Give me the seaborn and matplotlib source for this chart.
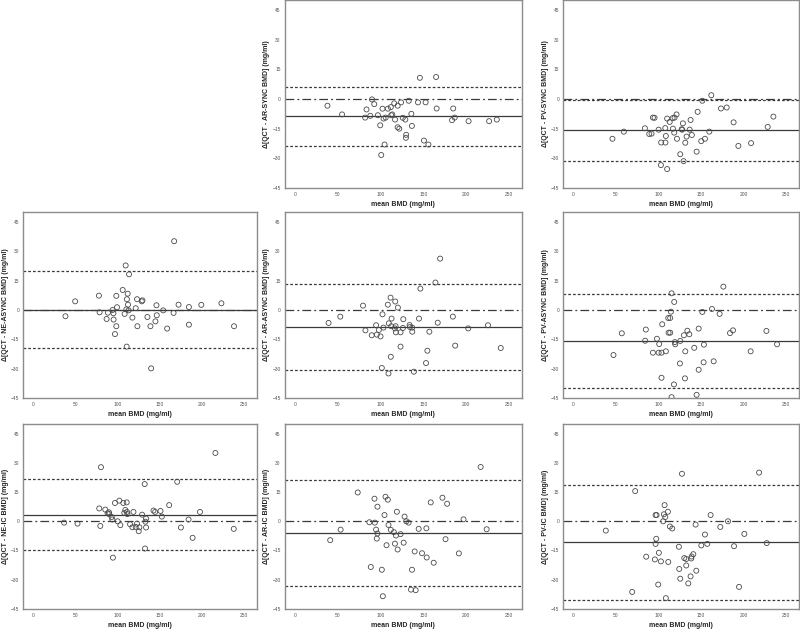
import numpy as np
import matplotlib
matplotlib.use('Agg')
import matplotlib.pyplot as plt
import seaborn as sns

sns.set_theme(style='white')
plt.rcParams['font.family'] = ['Liberation Sans', 'DejaVu Sans']

# ---- data (mean BMD, difference) ----
ar_sync_x = [37.9, 55, 83.6, 82, 88, 90, 92.6, 96.9, 99.6, 102.3, 100.8, 103.5, 104.7, 106, 108.6,
             112, 112.5, 113.7, 116, 117, 120, 120, 121.9, 124, 126, 129, 130, 129.7, 133, 136,
             136.7, 143.8, 146, 150.8, 152.7, 156, 165, 165.6, 183.6, 185, 186.7, 203, 227, 236]
ar_sync_y = [-3.4, -7.8, -5.3, -9.4, -8.5, -0.2, -2.6, -8.2, -13.3, -4.9, -28.3, -9.9, -23, -9.4, -4.9,
             -4.1, -8.2, -7.8, -2.2, -10.4, -3.4, -14.3, -15, -1.7, -9.5, -10.4, -18.1, -19.6, -0.9, -7.5,
             -13.6, -1.7, 10.7, -21, -1.7, -23, 11.1, -4.8, -10.7, -4.8, -9.4, -11.2, -11.2, -10.4]

pv_sync_x = [45.8, 59.2, 83.9, 89, 91.7, 93.3, 95.2, 100, 103, 102.7, 108, 108.5, 107.8, 110, 110,
             113, 116.4, 116.8, 118.3, 118.7, 121, 121.5, 125.4, 127, 128.5, 127.7, 129.3, 131.3, 132.8,
             136.4, 137.5, 139, 144.6, 145.8, 150, 151.3, 154.4, 159.5, 161.8, 173.2, 179.9, 188,
             193.6, 208.5, 228, 234.7]
pv_sync_y = [-20.1, -16.5, -14.8, -17.7, -17.5, -9.4, -9.5, -15.5, -22, -33.4, -22, -18.7, -14.7, -9.9, -35.4,
             -11.6, -9.7, -15, -17, -9.4, -7.8, -20.1, -27.9, -15.3, -12.3, -15.5, -31.4, -22.1, -19,
             -15.5, -10.6, -18.2, -26.6, -6.5, -21.3, -0.9, -20.1, -16.5, 1.9, -4.8, -4.3, -11.8,
             -23.7, -22.3, -14.1, -8.9]

ne_async_x = [38.1, 49.6, 77.8, 78.6, 86.9, 88.5, 94, 95, 95.2, 96.8, 98.4, 98.4, 99.2, 106, 108.3,
              109.5, 110.3, 110.7, 111, 111.9, 112.3, 113, 113.5, 117.5, 121.4, 123.4, 123, 128.6, 129.4,
              135.3, 138.9, 139.7, 144.8, 146, 146.4, 154, 158.7, 166.3, 167, 172.2, 184.5, 184.5,
              199.2, 223, 238]
ne_async_y = [-3.2, 4.4, 7.3, -1.2, -4.6, -1.4, 0, -1.7, -4.9, -12.3, 7.2, -8.3, 1.4, 10.2, -2,
              22.7, 0.3, -18.7, 5.5, 8.3, 2.7, -0.2, 18.2, -3.9, 0.9, -8.3, 5.5, 4.4, 4.9,
              -3.6, -8.3, -29.8, -5.8, 2.4, -2.7, -0.2, -9.5, -1.5, 35.1, 2.7, 1.5, -7.5,
              2.6, 3.4, -8.3]

ar_async_x = [39.2, 52.9, 79.5, 82.3, 89.7, 94.8, 95.6, 98, 100, 101.5, 102.3, 103.4, 108.5, 109.3,
              109.7, 111.7, 112.5, 112.9, 112, 116.8, 117.2, 117.6, 118, 120.3, 123.4, 123.4, 126.2,
              126.6, 134, 134.4, 137.1, 137.1, 139, 145, 146.6, 153.2, 154.8, 157.1, 164.2, 166.9,
              169.7, 184.6, 187.3, 202.6, 225.7, 240.6]
ar_async_y = [-6.6, -3.4, 2.2, -10.4, -12.9, -7.8, -12.6, -10.2, -13.5, -29.6, -2.2, -9, 2.7, -32.4,
              -6.8, 6.3, -8.3, -4.4, -23.9, -9.4, 4.3, -8.3, -11.4, 1.2, -11.4, -18.7, -9.2,
              -4.7, -7.7, -8.7, -11.1, -9, -31.5, -4.4, 10.9, -27.1, -20.8, -11.1, 14, -6.5,
              26.2, -3.4, -18.2, -9.4, -7.8, -19.4]

pv_async_x = [47, 56.8, 84.2, 85, 93.3, 98, 100, 100.7, 103.4, 103.4, 104.2, 108.5, 111.3, 111.7,
              113.6, 113.6, 114.4, 115.2, 115.2, 118, 118.3, 119.1, 119.5, 125.4, 125, 129.7, 130.9,
              131.3, 133.7, 136, 141.8, 144.6, 147, 147, 151.3, 152.8, 153.2, 162.6, 164.6, 171.6,
              176, 183.8, 187.3, 208, 226.5, 239]
pv_async_y = [-23, -11.9, -15.7, -10, -21.8, -14.7, -21.8, -17.4, -21.8, -34.6, -7.3, -21.1, -4.1, -11.6,
              -4.1, -11.6, -0.9, 8.5, -44.5, -38, 4.1, -16.4, -17.5, -15.8, -27.3, -12.9, -34.9,
              -21.1, -10.6, -12.4, -19.3, -43.3, -9.5, -30.5, -1, -26.7, -17.7, 0.5, -26.2, -2,
              11.9, -11.8, -10.4, -21.1, -10.7, -17.5]

ne_ic_x = [36.5, 52.4, 78.2, 80.2, 79.4, 85.3, 88.1, 89.7, 90, 92.9, 93.7, 94.4, 96.8, 100, 102,
           103.2, 106.7, 107.9, 109.1, 110.7, 111.1, 111.5, 114.7, 117.5, 118.7, 121.4, 123, 125,
           125.8, 129, 132.1, 132.9, 133.7, 133.7, 132.5, 142.5, 144.4, 150.8, 152.4, 161.1, 170.6,
           175, 184.1, 188.9, 197.6, 215.9, 237.7]
ne_ic_y = [-0.7, -1.2, 6.6, 27.8, -2.4, 6, 4.1, 4.6, 3.7, 2.2, 0.9, -18.7, 9.4, 0, 10.6,
           -2, 9.4, 4.3, 5.8, 9.7, 4.8, 3.7, -1.5, -3.1, 4.8, -2.9, -1.2, -5.1,
           -3.1, 3.4, 19.1, -0.2, 1.4, -3.2, -14, 5.5, 4.8, 5.3, 2.4, 8.3, 20.3,
           -3.2, 0.9, -8.5, 4.8, 35.1, -3.9]

ar_ic_x = [41.1, 53.3, 73.3, 87, 88.6, 92.9, 93.3, 94.8, 95.6, 96.4, 96.4, 101.5, 102.7, 104.6, 105.8,
           107, 108.5, 109.3, 112, 115.6, 116.8, 118, 119.1, 120, 123.4, 127, 128.1, 130.1, 132.8,
           135.6, 136.8, 139.9, 141.1, 144.6, 148.5, 153.6, 154, 158.7, 162.2, 172.4, 176, 177.9,
           191.6, 197.1, 217.1, 224.1]
ar_ic_y = [-9.7, -4.3, 14.8, -0.5, -23.5, 11.6, -0.7, -4.3, -8.9, 7.5, -6.3, -24.9, -38.5, 3.2, 12.6,
           -12.3, 11.1, -1.9, -4.4, -5.6, -11.5, -7.3, 4.9, -14.5, -6.6, -11, 2.4, 0, -0.7,
           -35.1, -24.9, -15.5, -35.4, -3.9, -16.4, -3.6, -18.6, 9.7, -21.3, 12.1, -9.2, 9,
           -16.5, 1, 27.9, -4.1]

pv_ic_x = [38, 69, 72.5, 85.4, 95.6, 96.4, 97.6, 96.4, 97.2, 99.5, 100.3, 102.7, 105.4, 106.2, 107,
           107.8, 108.5, 110.9, 111.3, 113.2, 116, 123.8, 124.2, 125.4, 127.4, 130.1, 132.4, 132.4,
           134.8, 137.5, 138.3, 138.7, 140.7, 143.4, 144.2, 150.1, 154.4, 157.1, 161, 172.4, 181.4,
           188.5, 194.4, 200.6, 217.9, 226.9]
pv_ic_y = [-4.8, -36.3, 15.5, -18.2, -19.6, 3.2, 3.2, -11.6, -9, -32.5, -16.2, -20.6, 0, 3.6, 8.3,
           2.2, -39.5, 4.9, -20.9, -2.7, -3.7, -13.1, -24.5, -29.5, 24.4, -18.9, -19.4, -22.7,
           -31.9, -28.3, -19.1, -18.1, -16.9, -1.7, -25.4, -12.4, -6.8, -11.6, 3.2, -2.9, 0,
           -12.8, -33.7, -6.5, 25, -11.2]

# Bland-Altman lines: mean difference, lower and upper limits of agreement
bias_means = [-8.7, -15.7, 0.2, -8.7, -15.8, 3.4, -6.0, -10.9]
lower_loa = [-23.9, -31.3, -19.4, -30.5, -40.0, -14.8, -33.2, -40.4]
upper_loa = [6.3, -0.3, 19.8, 13.3, 8.3, 21.5, 21.3, 18.4]

methods = ['AR-SYNC', 'PV-SYNC', 'NE-ASYNC', 'AR-ASYNC', 'PV-ASYNC', 'NE-IC', 'AR-IC', 'PV-IC']
xs = [ar_sync_x, pv_sync_x, ne_async_x, ar_async_x, pv_async_x, ne_ic_x, ar_ic_x, pv_ic_x]
ys = [ar_sync_y, pv_sync_y, ne_async_y, ar_async_y, pv_async_y, ne_ic_y, ar_ic_y, pv_ic_y]

# grid slots (row, col); top-left cell stays empty
slots = [(0, 1), (0, 2), (1, 0), (1, 1), (1, 2), (2, 0), (2, 1), (2, 2)]
col_left = [0.029, 0.356, 0.704]
col_width = [0.292, 0.296, 0.295]
row_bottom = [0.701, 0.367, 0.032]
row_height = [0.299, 0.296, 0.294]

fig = plt.figure(figsize=(8, 6.29), dpi=100)
line_col = '#3a3a3a'
frame_col = '#8c8c8c'

for i, name in enumerate(methods):
    r, c = slots[i]
    ax = fig.add_axes([col_left[c], row_bottom[r], col_width[c], row_height[r]])

    ax.axhline(upper_loa[i], color=line_col, lw=0.9, dashes=(2.2, 1.6))
    ax.axhline(lower_loa[i], color=line_col, lw=0.9, dashes=(2.2, 1.6))
    ax.axhline(0, color=line_col, lw=0.9, dashes=(7, 2.5, 1.5, 2.5))
    ax.axhline(bias_means[i], color=line_col, lw=0.9)

    sns.scatterplot(x=xs[i], y=ys[i], ax=ax, s=13, marker='o',
                    facecolor='none', edgecolor='#4a4a4a', linewidth=0.6, zorder=3)

    ax.set_xlim(-12, 265)
    ax.set_ylim(-45, 50)
    ax.set_xticks([0, 50, 100, 150, 200, 250])
    ax.set_yticks([-45, -30, -15, 0, 15, 30, 45])
    ax.tick_params(axis='both', labelsize=3.5, length=2, width=0.6,
                   colors='#555555', direction='out', pad=1)
    for sp in ax.spines.values():
        sp.set_color(frame_col)
        sp.set_linewidth(1.0)
    ax.set_xlabel('mean BMD (mg/ml)', fontsize=5, fontweight='bold', labelpad=3)
    ax.set_ylabel('\u0394[QCT - ' + name + ' BMD] (mg/ml)', fontsize=5,
                  fontweight='bold', labelpad=1.5)

fig.savefig('out.png', dpi=100)
